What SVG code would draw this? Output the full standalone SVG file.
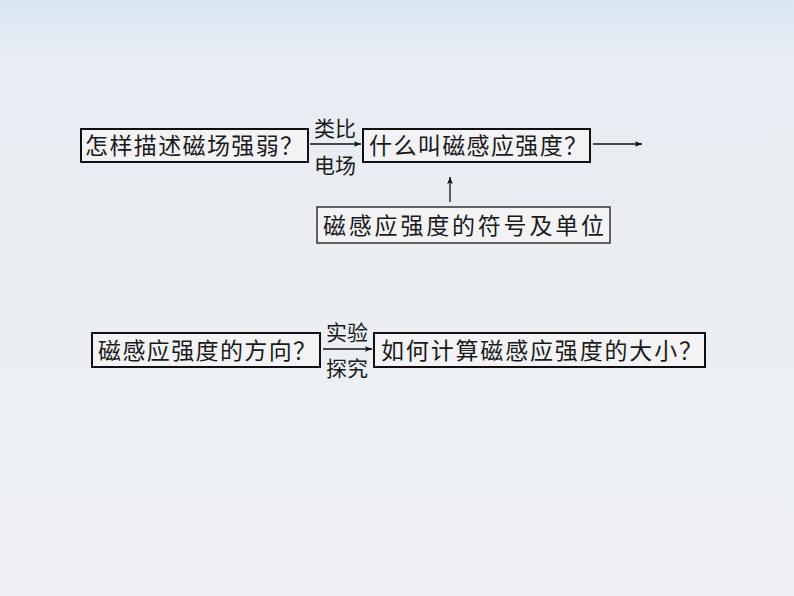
<svg xmlns="http://www.w3.org/2000/svg" width="794" height="596" viewBox="0 0 794 596">
<defs>
<linearGradient id="bg" x1="0" y1="0" x2="0" y2="1">
<stop offset="0" stop-color="#d9e7f3"/>
<stop offset="0.1" stop-color="#e8edf3"/>
<stop offset="1" stop-color="#eef0f4"/>
</linearGradient>
<marker id="ah" viewBox="0 0 10 10" refX="10" refY="5" markerWidth="9" markerHeight="7" markerUnits="userSpaceOnUse" orient="auto">
<path d="M0,1 L10,5 L0,9 L2,5 Z" fill="#111"/>
</marker>
<style>
.box{fill:#f3f3f5;stroke:#111;stroke-width:2}
.thin{stroke-width:1.5;stroke:#333}
.t{font-family:"Noto Sans CJK SC","Noto Sans CJK JP",sans-serif;font-size:23px;fill:#1a1a1a}
.l{font-family:"Noto Sans CJK SC","Noto Sans CJK JP",sans-serif;font-size:21px;fill:#1a1a1a;text-anchor:middle}
.c{stroke:#111;stroke-width:1.3;fill:none;marker-end:url(#ah)}
</style>
</defs>
<rect x="0" y="0" width="794" height="596" fill="url(#bg)"/>
<g id="connectors">
<line class="c" x1="310" y1="144" x2="361" y2="144"/>
<line class="c" x1="593" y1="144" x2="642" y2="144"/>
<line class="c" x1="450" y1="202" x2="450" y2="177"/>
<line class="c" x1="323" y1="349" x2="372" y2="349"/>
<text class="l" x="335" y="136">类比</text>
<text class="l" x="335" y="173">电场</text>
<text class="l" x="347" y="340">实验</text>
<text class="l" x="347" y="376">探究</text>
</g>
<g id="n1">
<rect class="box" x="81" y="129" width="227" height="33"/>
<text class="t" x="85" y="154" textLength="218" lengthAdjust="spacing">怎样描述磁场强弱？</text>
</g>
<g id="n2">
<rect class="box" x="363" y="129" width="227" height="33"/>
<text class="t" x="369" y="154" textLength="218" lengthAdjust="spacing">什么叫磁感应强度？</text>
</g>
<g id="n3">
<rect class="box thin" x="317" y="207" width="293" height="36"/>
<text class="t" x="323" y="234" textLength="281" lengthAdjust="spacing">磁感应强度的符号及单位</text>
</g>
<g id="n4">
<rect class="box" x="92" y="333" width="228" height="34"/>
<text class="t" x="98" y="359" textLength="218" lengthAdjust="spacing">磁感应强度的方向？</text>
</g>
<g id="n5">
<rect class="box" x="374" y="333" width="331" height="34"/>
<text class="t" x="381" y="359" textLength="321" lengthAdjust="spacing">如何计算磁感应强度的大小？</text>
</g>
</svg>
